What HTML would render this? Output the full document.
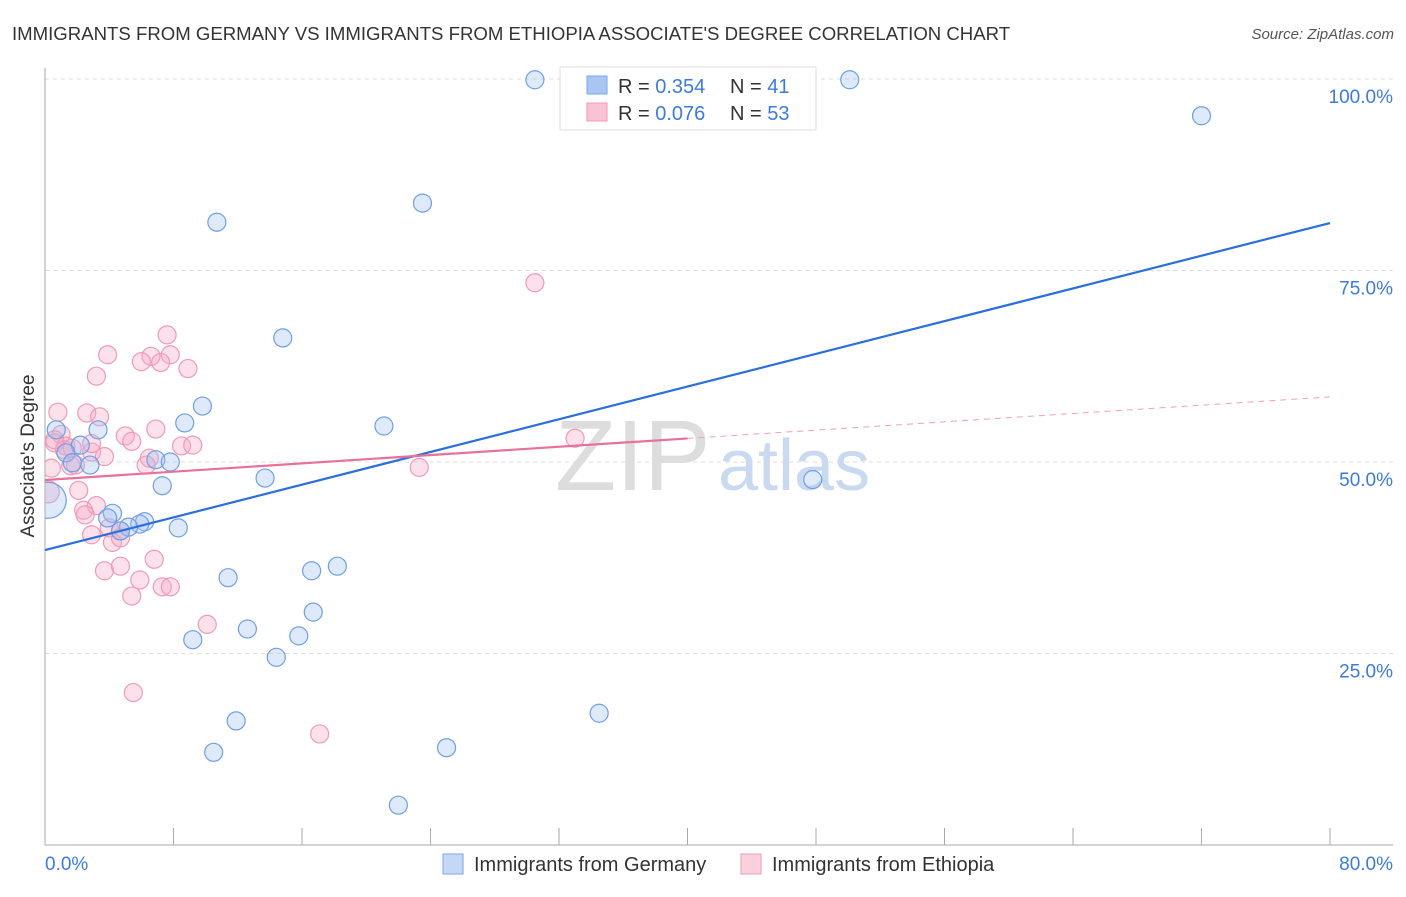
<!DOCTYPE html>
<html><head><meta charset="utf-8"><style>
body{margin:0;background:#fff;font-family:"Liberation Sans",sans-serif;}
svg text{font-family:"Liberation Sans",sans-serif;}
</style></head><body>
<svg id="chart" width="1406" height="892" viewBox="0 0 1406 892">
<defs><clipPath id="plotclip"><rect x="45" y="60" width="1300" height="785"/></clipPath></defs>
<text x="12" y="40" font-size="18.6" fill="#333">IMMIGRANTS FROM GERMANY VS IMMIGRANTS FROM ETHIOPIA ASSOCIATE'S DEGREE CORRELATION CHART</text>
<text x="1394" y="39" font-size="15" fill="#555" text-anchor="end" font-style="italic">Source: ZipAtlas.com</text>
<g id="grid"></g>
<text x="555" y="490" font-size="100" fill="#ddd" font-family="Liberation Serif">ZIP</text>
<text x="718" y="490" font-size="72" fill="#c9d9f0">atlas</text>
<g id="points" clip-path="url(#plotclip)"></g>
<g id="lines"></g>
<text x="34" y="456" font-size="19" fill="#333" text-anchor="middle" transform="rotate(-90 34 456)">Associate's Degree</text>
<text x="45" y="870" font-size="19" fill="#3d7bd9">0.0%</text>
<text x="1393" y="870" font-size="19" fill="#3d7bd9" text-anchor="end">80.0%</text>
<g>
<rect x="560" y="67" width="256" height="63" fill="#fff" stroke="#ddd"/>
<rect x="587" y="76" width="20" height="18" fill="#a9c6f3" stroke="#7aa6e8"/>
<rect x="587" y="103" width="20" height="18" fill="#f9c3d3" stroke="#f09ab8"/>
<text x="618" y="93" font-size="20" fill="#333">R = <tspan fill="#3d7bd9">0.354</tspan></text>
<text x="730" y="93" font-size="20" fill="#333">N = <tspan fill="#3d7bd9">41</tspan></text>
<text x="618" y="120" font-size="20" fill="#333">R = <tspan fill="#3d7bd9">0.076</tspan></text>
<text x="730" y="120" font-size="20" fill="#333">N = <tspan fill="#3d7bd9">53</tspan></text>
</g>
<g>
<rect x="443" y="854" width="20" height="20" fill="#c4d8f6" stroke="#7aa6e8"/>
<text x="474" y="871" font-size="20" fill="#333">Immigrants from Germany</text>
<rect x="741" y="854" width="20" height="20" fill="#fad0dd" stroke="#f09ab8"/>
<text x="772" y="871" font-size="20" fill="#333">Immigrants from Ethiopia</text>
</g>
</svg>
<script>
const yTicks=[25,50,75,100];
const yTickLabels=["25.0%","50.0%","75.0%","100.0%"];
const xTicks=[0,8,16,24,32,40,48,56,64,72,80];
const germanyX=[30.5,50.1,72.0,23.5,10.7,14.8,21.1,9.8,8.7,3.3,0.7,2.2,1.3,1.7,2.8,6.9,7.8,13.7,7.3,47.8,0.2,4.2,3.9,6.2,5.9,5.2,4.7,8.3,11.4,16.6,18.2,16.7,15.8,12.6,9.2,14.4,11.9,10.5,34.5,25.0,22.0];
const germanyY=[99.9,99.9,95.2,83.8,81.3,66.2,54.7,57.3,55.1,54.2,54.2,52.2,51.2,49.9,49.6,50.3,50.0,47.9,46.9,47.7,45.0,43.3,42.7,42.2,41.9,41.5,41.0,41.4,34.9,35.8,36.4,30.4,27.3,28.2,26.8,24.5,16.2,12.1,17.2,12.7,5.2];
const germanyR=[9,9,9,9,9,9,9,9,9,9,9,9,9,9,9,9,9,9,9,9,18,9,9,9,9,9,9,9,9,9,9,9,9,9,9,9,9,9,9,9,9];
const ethiopiaX=[30.5,7.6,3.9,6.6,7.8,6.0,7.2,8.9,3.2,0.8,2.6,3.4,1.0,6.9,5.0,5.4,8.5,9.2,0.6,1.3,1.7,2.9,3.7,6.5,6.3,1.6,0.4,23.3,33.0,2.1,0.2,2.4,3.2,2.5,4.0,4.7,2.9,4.2,6.8,3.7,4.7,5.9,5.4,7.3,7.8,10.1,5.5,17.1,1.9,1.2,0.6,4.7,2.9];
const ethiopiaY=[73.4,66.6,64.0,63.8,64.0,63.1,63.0,62.2,61.2,56.5,56.4,55.9,53.6,54.3,53.4,52.7,52.1,52.2,52.5,52.1,51.8,51.3,50.7,50.5,49.6,49.5,49.2,49.3,53.1,46.3,46.1,43.7,44.3,43.1,41.4,41.0,40.5,39.5,37.3,35.8,36.4,34.6,32.5,33.7,33.7,28.8,19.9,14.5,49.6,51.6,52.9,40.1,52.4];
const ethiopiaR=[9,9,9,9,9,9,9,9,9,9,9,9,9,9,9,9,9,9,9,9,9,9,9,9,9,9,9,9,9,9,11,9,9,9,9,9,9,9,9,9,9,9,9,9,9,9,9,9,9,9,9,9,9];
const germanyTrend=[38.5,81.2];
const ethiopiaTrend=[47.65,58.5];
const ethiopiaSolidEnd=40;
const NS="http://www.w3.org/2000/svg";
const X0=45,X1=1330,Y0=845,Y100=79;
function sx(v){return X0+(v/80)*(X1-X0);}
function sy(v){return Y0-(v/100)*(Y0-Y100);}
function mk(tag,attrs,parent){const e=document.createElementNS(NS,tag);for(const k in attrs)e.setAttribute(k,attrs[k]);parent.appendChild(e);return e;}
const grid=document.getElementById('grid');
yTicks.forEach((t,i)=>{
 const l=mk('line',{x1:X0,x2:1393,y1:sy(t),y2:sy(t),stroke:'#ddd','stroke-dasharray':'4,4'},grid);
 
 
 const tx=mk('text',{x:1393,y:sy(t)+24,'font-size':19,fill:'#3d7bd9','text-anchor':'end'},grid);
 tx.textContent=yTickLabels[i];
 
 
});
const ax=mk('line',{x1:X0,x2:X0,y1:68,y2:Y0,stroke:'#aaa'},grid);


const bx=mk('line',{x1:X0,x2:1393,y1:Y0,y2:Y0,stroke:'#aaa'},grid);


xTicks.forEach(t=>{
 const l=mk('line',{x1:sx(t),x2:sx(t),y1:Y0,y2:Y0-17,stroke:'#aaa'},grid);
 
 
});
const pts=document.getElementById('points');
ethiopiaX.forEach((v,i)=>{
 const c=mk('circle',{cx:sx(v),cy:sy(ethiopiaY[i]),r:ethiopiaR[i],fill:'rgba(246,170,195,0.35)',stroke:'#f09ab8','stroke-width':1.2},pts);
 
 
});
germanyX.forEach((v,i)=>{
 const c=mk('circle',{cx:sx(v),cy:sy(germanyY[i]),r:germanyR[i],fill:'rgba(160,192,240,0.35)',stroke:'#6f9fe6','stroke-width':1.2},pts);
 
 
});
const lines=document.getElementById('lines');
function ty(tr,x){return tr[0]+(tr[1]-tr[0])*x/80;}
const gl=mk('line',{x1:sx(0),y1:sy(ty(germanyTrend,0)),x2:sx(80),y2:sy(ty(germanyTrend,80)),stroke:'#2a6fdb','stroke-width':2.2},lines);


const el=mk('line',{x1:sx(0),y1:sy(ty(ethiopiaTrend,0)),x2:sx(ethiopiaSolidEnd),y2:sy(ty(ethiopiaTrend,ethiopiaSolidEnd)),stroke:'#e8709a','stroke-width':2.2},lines);


const ed=mk('line',{x1:sx(ethiopiaSolidEnd),y1:sy(ty(ethiopiaTrend,ethiopiaSolidEnd)),x2:sx(80),y2:sy(ty(ethiopiaTrend,80)),stroke:'#f0a0bc','stroke-width':1,'stroke-dasharray':'6,5'},lines);


</script>
</body></html>
